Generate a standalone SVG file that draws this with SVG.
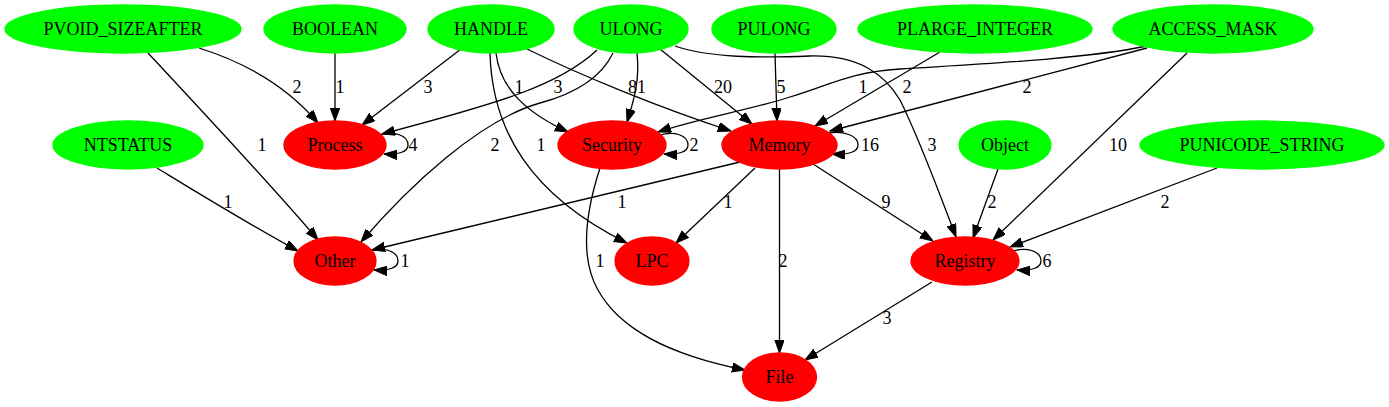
<svg xmlns="http://www.w3.org/2000/svg" width="1389" height="407" viewBox="0 0 1389 407">
<defs>
<marker id="arr" viewBox="0 0 14 10" markerWidth="14" markerHeight="10" refX="13" refY="4.7" orient="auto" markerUnits="userSpaceOnUse">
<path d="M0,0 L13,4.7 L0,9.4 Z" fill="#000" stroke="#000" stroke-width="1"/>
</marker>
</defs>
<style>
.src ellipse{fill:#00ff00;stroke:#00ff00;stroke-width:1.3}
.cat ellipse{fill:#ff0000;stroke:#ff0000;stroke-width:1.3}
text{font-family:"Liberation Serif","Times New Roman",serif;font-size:18px;fill:#000;text-anchor:middle}
#edges path{fill:none;stroke:#000;stroke-width:1.3;marker-end:url(#arr)}
</style>
<rect width="1389" height="407" fill="#fff"/>
<g id="edges">
<path d="M199,48 C250,64 290,90 318,123"/>
<path d="M148,53 C190,98 280,195 318,240"/>
<path d="M335,53 L335,121"/>
<path d="M461,49 L362,125"/>
<path d="M496,53 C500,88 525,112 568,132"/>
<path d="M527,49 C580,75 660,108 731,131"/>
<path d="M490,53 C492,130 530,195 627,243"/>
<path d="M597,50 C560,85 500,103 382,134"/>
<path d="M637,53 C640,80 634,100 627,122"/>
<path d="M613,53 C600,80 570,95 540,103 C480,120 410,185 361,242"/>
<path d="M660,49 L752,124"/>
<path d="M675,46 C710,58 760,58 810,56 C860,55 885,75 900,100 C920,140 940,195 956,237"/>
<path d="M775,53 L777,121"/>
<path d="M940,52 L815,126"/>
<path d="M1147,46 C1080,60 960,65 900,69 C850,72 830,85 790,97 C750,110 700,118 658,132"/>
<path d="M1147,48 L830,131"/>
<path d="M1187,53 L993,240"/>
<path d="M157,168 C185,185 245,222 298,251"/>
<path d="M740,162 L372,250"/>
<path d="M755,168 L676,243"/>
<path d="M779.5,169 L779.5,353"/>
<path d="M813,164 L933,241"/>
<path d="M998,169 L973,238"/>
<path d="M1217,168 L1010,247"/>
<path d="M600,168 C588,205 578,255 598,290 C620,330 670,355 745,370"/>
<path d="M932,282 L805,360"/>
<path d="M380,135 C394,131 408,135 408,145 C408,152 398,155 384,154"/>
<path d="M660,135 C674,131 688,135 688,145 C688,152 678,155 664,154"/>
<path d="M829,133 C843,131 858,135 858,145 C858,152 848,155 832,154"/>
<path d="M370,251 C384,247 398,251 398,261 C398,268 388,271 374,270"/>
<path d="M1013,251 C1027,247 1041,251 1041,261 C1041,268 1031,271 1017,270"/>
</g>
<g id="edge-labels">
<text x="297" y="93">2</text>
<text x="340" y="93">1</text>
<text x="428" y="93">3</text>
<text x="519" y="93">1</text>
<text x="558" y="93">3</text>
<text x="637" y="93">81</text>
<text x="723" y="93">20</text>
<text x="781" y="93">5</text>
<text x="863" y="93">1</text>
<text x="907" y="93">2</text>
<text x="1027" y="93">2</text>
<text x="262" y="151">1</text>
<text x="495" y="151">2</text>
<text x="541" y="151">1</text>
<text x="932" y="151">3</text>
<text x="1118" y="151">10</text>
<text x="228" y="208">1</text>
<text x="622" y="208">1</text>
<text x="728" y="208">1</text>
<text x="886" y="208">9</text>
<text x="992" y="208">2</text>
<text x="1165" y="208">2</text>
<text x="600" y="267">1</text>
<text x="783" y="267">2</text>
<text x="887" y="324">3</text>
<text x="413" y="151">4</text>
<text x="694" y="151">2</text>
<text x="870" y="151">16</text>
<text x="405" y="267">1</text>
<text x="1047" y="267">6</text>
</g>
<g id="PVOID_SIZEAFTER" class="src"><ellipse cx="123" cy="29" rx="118" ry="24"/><text x="123" y="35">PVOID_SIZEAFTER</text></g>
<g id="BOOLEAN" class="src"><ellipse cx="335" cy="29" rx="71" ry="24"/><text x="335" y="35">BOOLEAN</text></g>
<g id="HANDLE" class="src"><ellipse cx="491" cy="29" rx="63" ry="24"/><text x="491" y="35">HANDLE</text></g>
<g id="ULONG" class="src"><ellipse cx="631" cy="29" rx="57" ry="24"/><text x="631" y="35">ULONG</text></g>
<g id="PULONG" class="src"><ellipse cx="774" cy="29" rx="62" ry="24"/><text x="774" y="35">PULONG</text></g>
<g id="PLARGE_INTEGER" class="src"><ellipse cx="975" cy="29" rx="117" ry="24"/><text x="975" y="35">PLARGE_INTEGER</text></g>
<g id="ACCESS_MASK" class="src"><ellipse cx="1213" cy="29" rx="100" ry="24"/><text x="1213" y="35">ACCESS_MASK</text></g>
<g id="NTSTATUS" class="src"><ellipse cx="128" cy="145" rx="75" ry="24"/><text x="128" y="151">NTSTATUS</text></g>
<g id="Process" class="cat"><ellipse cx="335" cy="145" rx="51" ry="24"/><text x="335" y="151">Process</text></g>
<g id="Security" class="cat"><ellipse cx="612" cy="145" rx="54" ry="24"/><text x="612" y="151">Security</text></g>
<g id="Memory" class="cat"><ellipse cx="779.5" cy="145" rx="57.5" ry="24"/><text x="779.5" y="151">Memory</text></g>
<g id="Object" class="src"><ellipse cx="1005" cy="145" rx="46" ry="24"/><text x="1005" y="151">Object</text></g>
<g id="PUNICODE_STRING" class="src"><ellipse cx="1262" cy="145" rx="122" ry="24"/><text x="1262" y="151">PUNICODE_STRING</text></g>
<g id="Other" class="cat"><ellipse cx="335" cy="261" rx="41" ry="24"/><text x="335" y="267">Other</text></g>
<g id="LPC" class="cat"><ellipse cx="652" cy="261" rx="37" ry="24"/><text x="652" y="267">LPC</text></g>
<g id="Registry" class="cat"><ellipse cx="965" cy="261" rx="54" ry="24"/><text x="965" y="267">Registry</text></g>
<g id="File" class="cat"><ellipse cx="779.5" cy="377" rx="37" ry="24"/><text x="779.5" y="383">File</text></g>
</svg>
